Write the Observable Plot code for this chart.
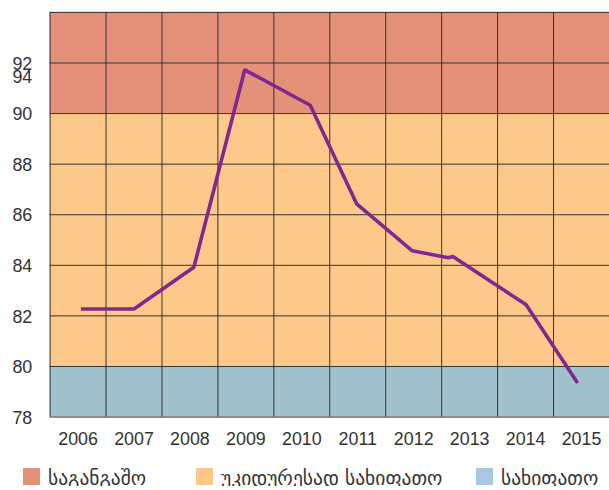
<!DOCTYPE html>
<html>
<head>
<meta charset="utf-8">
<script src="https://cdn.jsdelivr.net/npm/d3@7"></script>
<script src="https://cdn.jsdelivr.net/npm/@observablehq/plot@0.6"></script>
<style>
  html, body { margin: 0; padding: 0; background: #fff; overflow: hidden; }
  #chart svg { display: block; }
  #legend { position: relative; height: 35px; width: 609px; font-family: "DejaVu Sans", sans-serif; font-size: 19.5px; color: #333; }
  .item { position: absolute; top: 17px; display: flex; align-items: center; gap: 8px; white-space: nowrap; line-height: 17px; }
  .sw { width: 17px; height: 17px; flex: none; }
  .lbl { position: relative; top: 2px; }
</style>
</head>
<body>
<div id="chart"></div>
<div id="legend"></div>
<script>
// Data
const years  = [2006.05, 2007.0, 2008.07, 2008.98, 2010.15, 2010.98, 2011.97, 2012.62, 2012.70, 2014.01, 2014.93];
const values = [82.27, 82.27, 83.92, 91.73, 90.33, 86.43, 84.58, 84.30, 84.35, 82.44, 79.35];
const yearLabels = [2006, 2007, 2008, 2009, 2010, 2011, 2012, 2013, 2014, 2015];
const yTicks = [78, 80, 82, 84, 86, 88, 90, 92];
const yTopLabel = "94";
const yTopLabelPos = 91.45;
const bandLow  = [78, 80, 90];
const bandHigh = [80, 90, 94];
const bandNames = ["სახიფათო", "უკიდურესად სახიფათო", "საგანგაშო"];
const bandColors = ["#a1c2cd", "#fdc98a", "#e5917a"];
const legendNames  = ["საგანგაშო", "უკიდურესად სახიფათო", "სახიფათო"];
const legendColors = ["#e5917a", "#fdc98a", "#a9c6e3"];
const legendLeft = [23, 196, 476];

const bands = bandLow.map((lo, i) => ({lo, hi: bandHigh[i], name: bandNames[i], color: bandColors[i]}));
const series = years.map((x, i) => ({x, y: values[i]}));
const xBounds = d3.range(yearLabels.length + 1).map(i => yearLabels[0] - 0.5 + i);
const yGrid = d3.range(78, 95, 2);

const chart = Plot.plot({
  width: 614,
  height: 455,
  marginLeft: 50,
  marginRight: 0,
  marginTop: 12,
  marginBottom: 35,
  style: {fontFamily: "'Liberation Sans', Arial, sans-serif", fontSize: "18px", color: "#333", background: "#fff"},
  x: {domain: [yearLabels[0] - 0.5, yearLabels[yearLabels.length - 1] + 0.5]},
  y: {domain: [78, 94]},
  marks: [
    Plot.rect(bands, {y1: "lo", y2: "hi", fill: "color"}),
    Plot.ruleX(xBounds, {stroke: "#333", strokeWidth: 1}),
    Plot.ruleY(yGrid, {stroke: "#333", strokeWidth: 1}),
    Plot.line(series, {x: "x", y: "y", stroke: "#80288f", strokeWidth: 3.6, strokeLinejoin: "miter", strokeLinecap: "butt"}),
    Plot.axisX({ticks: yearLabels, tickFormat: d => String(d), tickSize: 0, tickPadding: 15, label: null, fontSize: 18, fill: "#333"}),
    Plot.axisY({ticks: yTicks, tickFormat: d => String(d), tickSize: 0, tickPadding: 18, label: null, fontSize: 18, fill: "#333", dy: 1}),
    Plot.text([yTopLabel], {x: () => yearLabels[0] - 0.5, y: () => yTopLabelPos, text: d => d, textAnchor: "end", dx: -18, fontSize: 18, fill: "#333"})
  ]
});
document.getElementById("chart").appendChild(chart);

const legend = document.getElementById("legend");
legendNames.forEach((name, i) => {
  const item = document.createElement("div");
  item.className = "item";
  item.style.left = legendLeft[i] + "px";
  const sw = document.createElement("span");
  sw.className = "sw";
  sw.style.background = legendColors[i];
  const t = document.createElement("span");
  t.className = "lbl";
  t.textContent = name;
  item.appendChild(sw);
  item.appendChild(t);
  legend.appendChild(item);
});
</script>
</body>
</html>
